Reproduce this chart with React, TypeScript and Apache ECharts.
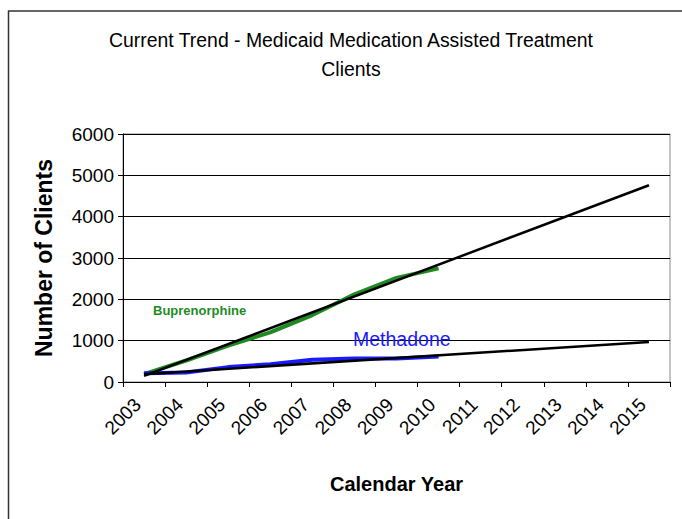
import React, { useEffect, useRef } from "react";
import * as echarts from "echarts";

const years = ["2003", "2004", "2005", "2006", "2007", "2008", "2009", "2010", "2011", "2012", "2013", "2014", "2015"];
const buprenorphine = [190, 520, 880, 1200, 1620, 2120, 2520, 2750];
const methadone = [210, 230, 360, 430, 540, 570, 570, 615];
const bupTrend: [string, number][] = [["2003", 150], ["2015", 4760]];
const metTrend: [string, number][] = [["2003", 190], ["2015", 970]];
const yTicks = { min: 0, max: 6000, interval: 1000 };

const FONT = "'Liberation Sans', Arial, sans-serif";

export default function App() {
  const ref = useRef<HTMLDivElement>(null);
  useEffect(() => {
    const chart = echarts.init(ref.current!, null, { renderer: "svg" });
    chart.setOption({
      animation: false,
      backgroundColor: "#ffffff",
      title: {
        text: "Current Trend - Medicaid Medication Assisted Treatment\nClients",
        left: 346,
        top: 20,
        textAlign: "center",
        textStyle: { fontFamily: FONT, fontSize: 19.4, fontWeight: "normal", color: "#000", lineHeight: 29 },
      },
      graphic: [
        {
          type: "rect",
          shape: { x: 8.5, y: 11, width: 700, height: 600 },
          style: { fill: "none", stroke: "#333", lineWidth: 1.5 },
          z: 0,
        },
        {
          type: "text",
          left: 153,
          top: 304,
          style: { text: "Buprenorphine", fill: "#1f8a1f", font: `bold 13px ${FONT}` },
          z: 10,
        },
        {
          type: "text",
          left: 353,
          top: 329,
          style: { text: "Methadone", fill: "#1a1aff", font: `19.5px ${FONT}` },
          z: 10,
        },
      ],
      grid: { left: 123, right: 12, top: 134, bottom: 137, show: true, borderColor: "#888", borderWidth: 1 },
      xAxis: {
        type: "category",
        data: years,
        boundaryGap: true,
        name: "Calendar Year",
        nameLocation: "middle",
        nameGap: 92,
        nameTextStyle: { fontFamily: FONT, fontSize: 20, fontWeight: "bold", color: "#000" },
        axisLine: { lineStyle: { color: "#000", width: 1 } },
        axisTick: { show: true, alignWithLabel: false, length: 5, lineStyle: { color: "#000" } },
        axisLabel: {
          rotate: 45,
          fontFamily: FONT,
          fontSize: 19,
          color: "#000",
          margin: 13,
          interval: 0,
          padding: [0, 9, 0, 0],
        },
      },
      yAxis: {
        type: "value",
        ...yTicks,
        name: "Number of Clients",
        nameLocation: "middle",
        nameGap: 68,
        nameTextStyle: { fontFamily: FONT, fontSize: 23, fontWeight: "bold", color: "#000" },
        axisLine: { show: true, lineStyle: { color: "#000", width: 1 } },
        axisTick: { show: true, length: 5, lineStyle: { color: "#000" } },
        axisLabel: { fontFamily: FONT, fontSize: 19, color: "#000", margin: 9, formatter: (v: number) => String(v) },
        splitLine: { show: true, lineStyle: { color: "#000", width: 1 } },
      },
      series: [
        {
          type: "line",
          data: buprenorphine,
          symbol: "none",
          lineStyle: { color: "#1f8a1f", width: 4 },
          z: 3,
        },
        {
          type: "line",
          data: methadone,
          symbol: "none",
          lineStyle: { color: "#1a1aff", width: 4 },
          z: 3,
        },
        {
          type: "line",
          data: bupTrend,
          symbol: "none",
          lineStyle: { color: "#000", width: 2.5 },
          z: 4,
        },
        {
          type: "line",
          data: metTrend,
          symbol: "none",
          lineStyle: { color: "#000", width: 2.5 },
          z: 4,
        },
      ],
    });
    return () => chart.dispose();
  }, []);
  return <div ref={ref} style={{ position: "absolute", left: 0, top: 0, width: 682, height: 519 }} />;
}
